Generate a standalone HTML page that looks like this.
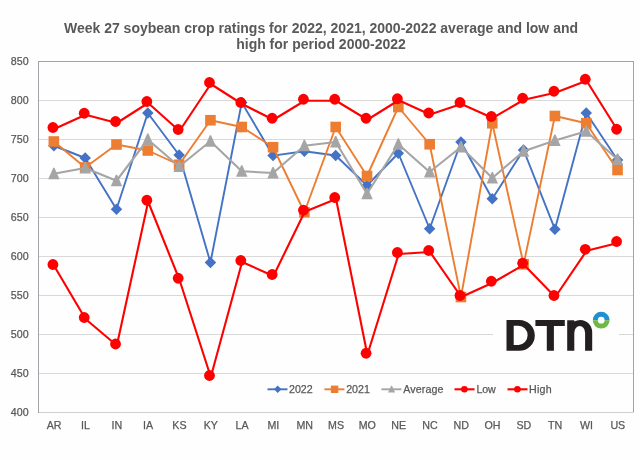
<!DOCTYPE html>
<html><head><meta charset="utf-8"><title>Week 27 soybean crop ratings</title>
<style>
html,body{margin:0;padding:0;background:#fefefe;}
body{width:640px;height:460px;overflow:hidden;font-family:"Liberation Sans",sans-serif;}
svg{display:block;will-change:transform;}
text{font-family:"Liberation Sans",sans-serif;}
</style></head><body>
<svg width="640" height="460" viewBox="0 0 640 460">
<rect x="0" y="0" width="640" height="460" fill="#fefefe"/>

<g font-size="14px" font-weight="bold" fill="#595959" text-anchor="middle">
<text x="321" y="32.7">Week 27 soybean crop ratings for 2022, 2021, 2000-2022 average and low and</text>
<text x="321" y="48.7">high for period 2000-2022</text>
</g>
<g stroke="#d9d9d9" stroke-width="1" shape-rendering="crispEdges">
<line x1="38.5" y1="100.5" x2="633.5" y2="100.5"/>
<line x1="38.5" y1="139.5" x2="633.5" y2="139.5"/>
<line x1="38.5" y1="178.5" x2="633.5" y2="178.5"/>
<line x1="38.5" y1="217.5" x2="633.5" y2="217.5"/>
<line x1="38.5" y1="256.5" x2="633.5" y2="256.5"/>
<line x1="38.5" y1="295.5" x2="633.5" y2="295.5"/>
<line x1="38.5" y1="334.5" x2="633.5" y2="334.5"/>
<line x1="38.5" y1="373.5" x2="633.5" y2="373.5"/>
</g>
<rect x="493" y="300" width="126" height="66" fill="#fefefe"/>
<rect x="38.5" y="61.5" width="595.0" height="351.0" fill="none" stroke="#a2a3a8" stroke-width="1" shape-rendering="crispEdges"/>
<line x1="38.5" y1="412.5" x2="633.5" y2="412.5" stroke="#d0d0d0" stroke-width="1" shape-rendering="crispEdges"/>
<g font-size="10.67px" fill="#595959" stroke="#595959" stroke-width="0.25" text-anchor="end">
<text x="28.6" y="65.3">850</text>
<text x="28.6" y="104.3">800</text>
<text x="28.6" y="143.3">750</text>
<text x="28.6" y="182.3">700</text>
<text x="28.6" y="221.3">650</text>
<text x="28.6" y="260.3">600</text>
<text x="28.6" y="299.3">550</text>
<text x="28.6" y="338.3">500</text>
<text x="28.6" y="377.3">450</text>
<text x="28.6" y="416.3">400</text>
</g>
<g font-size="10.67px" fill="#595959" stroke="#595959" stroke-width="0.25" text-anchor="middle">
<text x="54.16" y="429.4">AR</text>
<text x="85.47" y="429.4">IL</text>
<text x="116.79" y="429.4">IN</text>
<text x="148.11" y="429.4">IA</text>
<text x="179.42" y="429.4">KS</text>
<text x="210.74" y="429.4">KY</text>
<text x="242.05" y="429.4">LA</text>
<text x="273.37" y="429.4">MI</text>
<text x="304.68" y="429.4">MN</text>
<text x="336.00" y="429.4">MS</text>
<text x="367.32" y="429.4">MO</text>
<text x="398.63" y="429.4">NE</text>
<text x="429.95" y="429.4">NC</text>
<text x="461.26" y="429.4">ND</text>
<text x="492.58" y="429.4">OH</text>
<text x="523.89" y="429.4">SD</text>
<text x="555.21" y="429.4">TN</text>
<text x="586.53" y="429.4">WI</text>
<text x="617.84" y="429.4">US</text>
</g>
<polyline points="53.86,145.75 85.17,158.00 116.49,209.25 147.81,113.00 179.12,155.00 210.44,262.50 241.75,102.50 273.07,155.60 304.38,151.25 335.70,155.50 367.02,185.50 398.33,153.25 429.65,228.75 460.96,142.00 492.28,198.75 523.59,150.00 554.91,229.20 586.23,113.00 617.54,160.00" fill="none" stroke="#4472c4" stroke-width="1.9" stroke-linejoin="round" stroke-linecap="round"/>
<g fill="#4472c4">
<path d="M53.86,140.00 L59.61,145.75 L53.86,151.50 L48.11,145.75 Z"/>
<path d="M85.17,152.25 L90.92,158.00 L85.17,163.75 L79.42,158.00 Z"/>
<path d="M116.49,203.50 L122.24,209.25 L116.49,215.00 L110.74,209.25 Z"/>
<path d="M147.81,107.25 L153.56,113.00 L147.81,118.75 L142.06,113.00 Z"/>
<path d="M179.12,149.25 L184.87,155.00 L179.12,160.75 L173.37,155.00 Z"/>
<path d="M210.44,256.75 L216.19,262.50 L210.44,268.25 L204.69,262.50 Z"/>
<path d="M241.75,96.75 L247.50,102.50 L241.75,108.25 L236.00,102.50 Z"/>
<path d="M273.07,149.85 L278.82,155.60 L273.07,161.35 L267.32,155.60 Z"/>
<path d="M304.38,145.50 L310.13,151.25 L304.38,157.00 L298.63,151.25 Z"/>
<path d="M335.70,149.75 L341.45,155.50 L335.70,161.25 L329.95,155.50 Z"/>
<path d="M367.02,179.75 L372.77,185.50 L367.02,191.25 L361.27,185.50 Z"/>
<path d="M398.33,147.50 L404.08,153.25 L398.33,159.00 L392.58,153.25 Z"/>
<path d="M429.65,223.00 L435.40,228.75 L429.65,234.50 L423.90,228.75 Z"/>
<path d="M460.96,136.25 L466.71,142.00 L460.96,147.75 L455.21,142.00 Z"/>
<path d="M492.28,193.00 L498.03,198.75 L492.28,204.50 L486.53,198.75 Z"/>
<path d="M523.59,144.25 L529.34,150.00 L523.59,155.75 L517.84,150.00 Z"/>
<path d="M554.91,223.45 L560.66,229.20 L554.91,234.95 L549.16,229.20 Z"/>
<path d="M586.23,107.25 L591.98,113.00 L586.23,118.75 L580.48,113.00 Z"/>
<path d="M617.54,154.25 L623.29,160.00 L617.54,165.75 L611.79,160.00 Z"/>
</g>
<polyline points="53.86,141.50 85.17,167.50 116.49,144.50 147.81,150.50 179.12,164.75 210.44,120.25 241.75,127.00 273.07,147.25 304.38,212.25 335.70,127.00 367.02,176.00 398.33,107.00 429.65,144.25 460.96,297.00 492.28,123.25 523.59,264.25 554.91,116.00 586.23,123.25 617.54,170.00" fill="none" stroke="#ed7d31" stroke-width="1.9" stroke-linejoin="round" stroke-linecap="round"/>
<g fill="#ed7d31">
<rect x="48.56" y="136.20" width="10.6" height="10.6"/>
<rect x="79.87" y="162.20" width="10.6" height="10.6"/>
<rect x="111.19" y="139.20" width="10.6" height="10.6"/>
<rect x="142.51" y="145.20" width="10.6" height="10.6"/>
<rect x="173.82" y="159.45" width="10.6" height="10.6"/>
<rect x="205.14" y="114.95" width="10.6" height="10.6"/>
<rect x="236.45" y="121.70" width="10.6" height="10.6"/>
<rect x="267.77" y="141.95" width="10.6" height="10.6"/>
<rect x="299.08" y="206.95" width="10.6" height="10.6"/>
<rect x="330.40" y="121.70" width="10.6" height="10.6"/>
<rect x="361.72" y="170.70" width="10.6" height="10.6"/>
<rect x="393.03" y="101.70" width="10.6" height="10.6"/>
<rect x="424.35" y="138.95" width="10.6" height="10.6"/>
<rect x="455.66" y="291.70" width="10.6" height="10.6"/>
<rect x="486.98" y="117.95" width="10.6" height="10.6"/>
<rect x="518.29" y="258.95" width="10.6" height="10.6"/>
<rect x="549.61" y="110.70" width="10.6" height="10.6"/>
<rect x="580.93" y="117.95" width="10.6" height="10.6"/>
<rect x="612.24" y="164.70" width="10.6" height="10.6"/>
</g>
<polyline points="53.86,173.75 85.17,168.00 116.49,180.75 147.81,139.50 179.12,166.50 210.44,141.25 241.75,171.25 273.07,173.00 304.38,145.75 335.70,142.00 367.02,193.75 398.33,144.25 429.65,172.00 460.96,147.00 492.28,178.00 523.59,151.25 554.91,140.50 586.23,131.25 617.54,159.50" fill="none" stroke="#a5a5a5" stroke-width="2.1" stroke-linejoin="round" stroke-linecap="round"/>
<g fill="#a5a5a5">
<path d="M53.26,167.85 L54.46,167.85 L59.56,179.15 L48.16,179.15 Z"/>
<path d="M84.57,162.10 L85.77,162.10 L90.87,173.40 L79.47,173.40 Z"/>
<path d="M115.89,174.85 L117.09,174.85 L122.19,186.15 L110.79,186.15 Z"/>
<path d="M147.21,133.60 L148.41,133.60 L153.51,144.90 L142.11,144.90 Z"/>
<path d="M178.52,160.60 L179.72,160.60 L184.82,171.90 L173.42,171.90 Z"/>
<path d="M209.84,135.35 L211.04,135.35 L216.14,146.65 L204.74,146.65 Z"/>
<path d="M241.15,165.35 L242.35,165.35 L247.45,176.65 L236.05,176.65 Z"/>
<path d="M272.47,167.10 L273.67,167.10 L278.77,178.40 L267.37,178.40 Z"/>
<path d="M303.78,139.85 L304.98,139.85 L310.08,151.15 L298.68,151.15 Z"/>
<path d="M335.10,136.10 L336.30,136.10 L341.40,147.40 L330.00,147.40 Z"/>
<path d="M366.42,187.85 L367.62,187.85 L372.72,199.15 L361.32,199.15 Z"/>
<path d="M397.73,138.35 L398.93,138.35 L404.03,149.65 L392.63,149.65 Z"/>
<path d="M429.05,166.10 L430.25,166.10 L435.35,177.40 L423.95,177.40 Z"/>
<path d="M460.36,141.10 L461.56,141.10 L466.66,152.40 L455.26,152.40 Z"/>
<path d="M491.68,172.10 L492.88,172.10 L497.98,183.40 L486.58,183.40 Z"/>
<path d="M522.99,145.35 L524.19,145.35 L529.29,156.65 L517.89,156.65 Z"/>
<path d="M554.31,134.60 L555.51,134.60 L560.61,145.90 L549.21,145.90 Z"/>
<path d="M585.63,125.35 L586.83,125.35 L591.93,136.65 L580.53,136.65 Z"/>
<path d="M616.94,153.60 L618.14,153.60 L623.24,164.90 L611.84,164.90 Z"/>
</g>
<polyline points="54.21,266.00 85.52,319.00 116.84,345.50 148.16,201.75 179.47,279.75 210.79,377.00 242.10,262.00 273.42,276.00 304.73,211.75 336.05,199.00 367.37,354.75 398.68,254.00 430.00,252.00 461.31,297.00 492.63,282.75 523.94,264.75 555.26,297.00 586.58,250.80 617.89,243.00" fill="none" stroke="#ff0000" stroke-width="2.1" stroke-linejoin="round" stroke-linecap="round"/>
<g fill="#ff0000">
<circle cx="52.91" cy="264.50" r="5.4"/>
<circle cx="84.22" cy="317.50" r="5.4"/>
<circle cx="115.54" cy="344.00" r="5.4"/>
<circle cx="146.86" cy="200.25" r="5.4"/>
<circle cx="178.17" cy="278.25" r="5.4"/>
<circle cx="209.49" cy="375.50" r="5.4"/>
<circle cx="240.80" cy="260.50" r="5.4"/>
<circle cx="272.12" cy="274.50" r="5.4"/>
<circle cx="303.43" cy="210.25" r="5.4"/>
<circle cx="334.75" cy="197.50" r="5.4"/>
<circle cx="366.07" cy="353.25" r="5.4"/>
<circle cx="397.38" cy="252.50" r="5.4"/>
<circle cx="428.70" cy="250.50" r="5.4"/>
<circle cx="460.01" cy="295.50" r="5.4"/>
<circle cx="491.33" cy="281.25" r="5.4"/>
<circle cx="522.64" cy="263.25" r="5.4"/>
<circle cx="553.96" cy="295.50" r="5.4"/>
<circle cx="585.28" cy="249.30" r="5.4"/>
<circle cx="616.59" cy="241.50" r="5.4"/>
</g>
<polyline points="54.21,129.00 85.52,114.75 116.84,123.00 148.16,103.00 179.47,131.00 210.79,84.00 242.10,104.00 273.42,119.75 304.73,100.75 336.05,100.75 367.37,119.75 398.68,100.25 430.00,114.50 461.31,104.00 492.63,118.00 523.94,99.75 555.26,92.75 586.58,80.75 617.89,130.75" fill="none" stroke="#ff0000" stroke-width="2.1" stroke-linejoin="round" stroke-linecap="round"/>
<g fill="#ff0000">
<circle cx="52.91" cy="127.50" r="5.4"/>
<circle cx="84.22" cy="113.25" r="5.4"/>
<circle cx="115.54" cy="121.50" r="5.4"/>
<circle cx="146.86" cy="101.50" r="5.4"/>
<circle cx="178.17" cy="129.50" r="5.4"/>
<circle cx="209.49" cy="82.50" r="5.4"/>
<circle cx="240.80" cy="102.50" r="5.4"/>
<circle cx="272.12" cy="118.25" r="5.4"/>
<circle cx="303.43" cy="99.25" r="5.4"/>
<circle cx="334.75" cy="99.25" r="5.4"/>
<circle cx="366.07" cy="118.25" r="5.4"/>
<circle cx="397.38" cy="98.75" r="5.4"/>
<circle cx="428.70" cy="113.00" r="5.4"/>
<circle cx="460.01" cy="102.50" r="5.4"/>
<circle cx="491.33" cy="116.50" r="5.4"/>
<circle cx="522.64" cy="98.25" r="5.4"/>
<circle cx="553.96" cy="91.25" r="5.4"/>
<circle cx="585.28" cy="79.25" r="5.4"/>
<circle cx="616.59" cy="129.25" r="5.4"/>
</g>
<g font-size="10.67px" fill="#595959">
<line x1="267.5" y1="389.3" x2="287.5" y2="389.3" stroke="#4472c4" stroke-width="1.9"/>
<path d="M277.7,385.6 L281.4,389.3 L277.7,393.0 L274.0,389.3 Z" fill="#4472c4"/>
<text x="289.0" y="393.0" stroke="#595959" stroke-width="0.25">2022</text>
<line x1="324.4" y1="389.3" x2="344.4" y2="389.3" stroke="#ed7d31" stroke-width="1.9"/>
<rect x="330.9" y="385.6" width="7.4" height="7.4" fill="#ed7d31"/>
<text x="346.2" y="393.0" stroke="#595959" stroke-width="0.25">2021</text>
<line x1="381.4" y1="389.3" x2="401.4" y2="389.3" stroke="#a5a5a5" stroke-width="1.9"/>
<path d="M391.2,385.7 L391.99999999999994,385.7 L395.09999999999997,392.5 L388.09999999999997,392.5 Z" fill="#a5a5a5"/>
<text x="403.3" y="393.0" textLength="40.2" lengthAdjust="spacing" stroke="#595959" stroke-width="0.25">Average</text>
<line x1="454.5" y1="389.3" x2="474.5" y2="389.3" stroke="#ff0000" stroke-width="2.1"/>
<circle cx="464.4" cy="389.3" r="3.3" fill="#ff0000"/>
<text x="476.6" y="393.0" textLength="19.2" lengthAdjust="spacing" stroke="#595959" stroke-width="0.25">Low</text>
<line x1="507.5" y1="389.3" x2="527.5" y2="389.3" stroke="#ff0000" stroke-width="2.1"/>
<circle cx="517.4000000000001" cy="389.3" r="3.3" fill="#ff0000"/>
<text x="529.1" y="393.0" textLength="22.6" lengthAdjust="spacing" stroke="#595959" stroke-width="0.25">High</text>
</g>
<g fill="#231f20">
<path fill-rule="evenodd" d="M506.5,320 H519.4 A15.4,15.4 0 0 1 519.4,350.8 H506.5 Z M513.7,325.8 V344.9 H518.6 A9,9.55 0 0 0 518.6,325.8 Z"/>
<path d="M535.4,320 H564.8 V326.1 H553.9 V350.8 H546.8 V326.1 H535.4 Z"/>
<path d="M567.2,350.8 V320.3 H574.3 V321.6 Q577,319.9 580.2,319.9 A12,12.3 0 0 1 592.2,332.2 V350.8 H585.1 V333 A5.4,6.9 0 0 0 574.3,333 V350.8 Z"/>
</g>
<g fill="none" stroke-width="5.0">
<path d="M595.3,320.2 A5.9,5.9 0 0 1 607.1,320.2" stroke="#1f90d4"/>
<path d="M595.3,320.2 A5.9,5.9 0 0 0 607.1,320.2" stroke="#6eb946"/>
</g>
</svg></body></html>
